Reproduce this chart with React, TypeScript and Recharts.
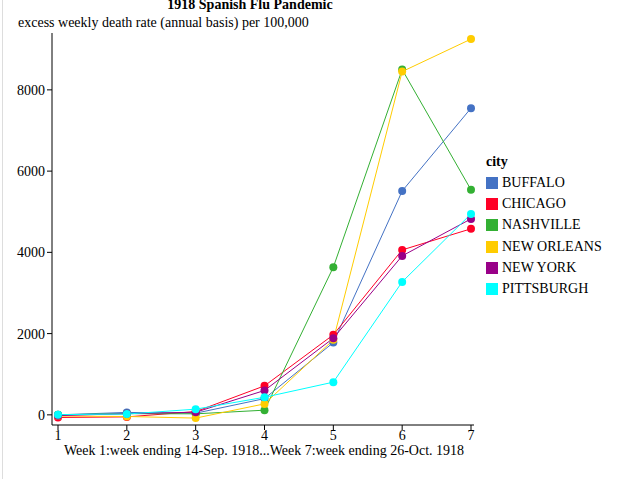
import { Line, LineChart, XAxis, YAxis } from "recharts";

const weeks = [1, 2, 3, 4, 5, 6, 7];
const cities = ["BUFFALO", "CHICAGO", "NASHVILLE", "NEW ORLEANS", "NEW YORK", "PITTSBURGH"];
const colors = ["#4472c4", "#ff0026", "#33b033", "#ffcc00", "#990088", "#00ffff"];

const buffalo = [0, 60, 40, 400, 1780, 5510, 7550];
const chicago = [-65, -50, 80, 714, 1970, 4060, 4580];
const nashville = [0, 30, 25, 115, 3635, 8500, 5540];
const newOrleans = [-30, -40, -80, 270, 1846, 8450, 9250];
const newYork = [-20, 30, 65, 600, 1887, 3913, 4824];
const pittsburgh = [5, 20, 140, 433, 805, 3273, 4947];

const yTicks = [0, 2000, 4000, 6000, 8000];

const series = [buffalo, chicago, nashville, newOrleans, newYork, pittsburgh];

const data = weeks.map((w, i) => {
  const row: Record<string, number> = { week: w };
  cities.forEach((c, j) => {
    row[c] = series[j][i];
  });
  return row;
});

const font = '"Liberation Serif", "Times New Roman", serif';

function CityLegend() {
  return (
    <div style={{ position: "absolute", left: 486, top: 151, fontSize: 14, color: "#000" }}>
      <div style={{ fontWeight: "bold", height: 21, lineHeight: "21px" }}>city</div>
      {cities.map((c, i) => (
        <div key={c} style={{ display: "flex", alignItems: "center", height: 21.3 }}>
          <div style={{ width: 12, height: 12, background: colors[i], marginRight: 4 }} />
          <span>{c}</span>
        </div>
      ))}
    </div>
  );
}

export default function App() {
  return (
    <div
      style={{
        position: "absolute",
        left: 0,
        top: 0,
        width: 619,
        height: 479,
        background: "#fff",
        fontFamily: font,
        overflow: "hidden",
      }}
    >
      <div style={{ position: "absolute", left: 2, top: 0, width: 1, height: 479, background: "#ddd" }} />
      <div
        style={{
          position: "absolute",
          left: 0,
          width: 500,
          top: -3,
          textAlign: "center",
          fontWeight: "bold",
          fontSize: 14,
        }}
      >
        1918 Spanish Flu Pandemic
      </div>
      <div style={{ position: "absolute", left: 18, top: 15, fontSize: 14 }}>
        excess weekly death rate (annual basis) per 100,000
      </div>
      <div style={{ position: "absolute", left: 52, width: 424, top: 443, textAlign: "center", fontSize: 14 }}>
        Week 1:week ending 14-Sep. 1918...Week 7:week ending 26-Oct. 1918
      </div>
      <LineChart
        width={619}
        height={479}
        data={data}
        margin={{ top: 33, right: 145, bottom: 24, left: 12 }}
        style={{ position: "absolute", left: 0, top: 0 }}
      >
        <XAxis
          dataKey="week"
          type="number"
          domain={[1, 7]}
          ticks={weeks}
          height={30}
          padding={{ left: 6, right: 3 }}
          axisLine={{ stroke: "#000" }}
          tickLine={{ stroke: "#000" }}
          tickSize={5}
          tickMargin={0}
          tick={{ fill: "#000", fontSize: 14, fontFamily: font }}
        />
        <YAxis
          type="number"
          domain={[-250, 9400]}
          ticks={yTicks}
          width={40}
          axisLine={{ stroke: "#000" }}
          tickLine={{ stroke: "#000" }}
          tickSize={5}
          tickMargin={2}
          tick={{ fill: "#000", fontSize: 14, fontFamily: font }}
          allowDataOverflow
        />
        {cities.map((c, i) => (
          <Line
            key={c}
            dataKey={c}
            type="linear"
            stroke={colors[i]}
            strokeWidth={1}
            dot={{ r: 4, fill: colors[i], stroke: colors[i], strokeWidth: 0 }}
            activeDot={false}
            isAnimationActive={false}
          />
        ))}
      </LineChart>
      <CityLegend />
    </div>
  );
}
